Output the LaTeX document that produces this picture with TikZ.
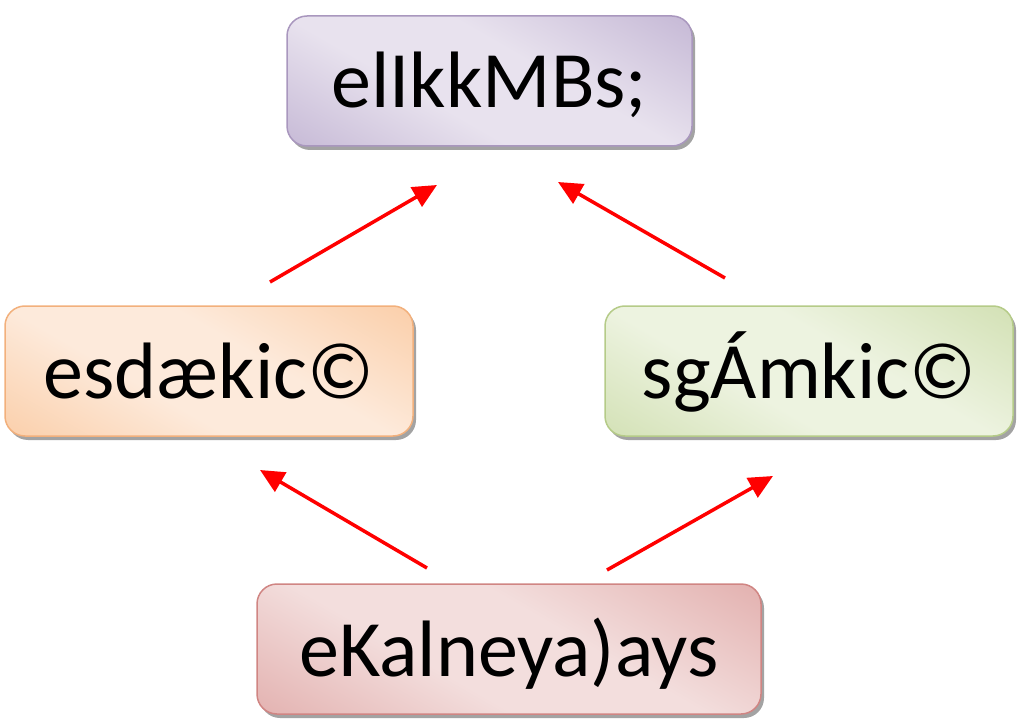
\documentclass[tikz,border=0pt]{standalone}
\usepackage{fontspec}
\setmainfont{Carlito}
\usetikzlibrary{arrows.meta,shadows}
\definecolor{pD}{HTML}{B1A0C7}\definecolor{pL}{HTML}{E8E2EE}\definecolor{pB}{HTML}{A997BE}
\definecolor{oD}{HTML}{F9BE8C}\definecolor{oL}{HTML}{FDEADB}\definecolor{oB}{HTML}{F2B07C}
\definecolor{gD}{HTML}{C3D69B}\definecolor{gL}{HTML}{EDF3E0}\definecolor{gB}{HTML}{B5CB88}
\definecolor{rD}{HTML}{D99694}\definecolor{rL}{HTML}{F3DEDD}\definecolor{rB}{HTML}{D08583}
\pgfdeclarehorizontalshading[sd,sl]{tri}{100bp}{color(0bp)=(sd); color(40bp)=(sl); color(58bp)=(sl); color(100bp)=(sd)}
\tikzset{
  box/.style args={#1/#2/#3}{rounded corners=20pt, minimum height=130pt, inner sep=0pt,
    text height=66pt, text depth=12pt,
    draw=#3, line width=1.5pt, font=\fontsize{80}{90}\selectfont,
    drop shadow={shadow xshift=3pt, shadow yshift=-4pt, fill=black!45, opacity=0.8},
    shading=tri, shading angle=60,
    /utils/exec={\colorlet{sd}{#1}\colorlet{sl}{#2}}},
  arr/.style={draw=red, line width=3.5pt, -{Triangle[length=24pt,width=22pt]}}
}
\begin{document}
\begin{tikzpicture}[x=1pt,y=-1pt]
\useasboundingbox (0,0) rectangle (1017,719);
\colorlet{sd}{white}\colorlet{sl}{white}
\node[box={pD}/{pL}/{pB}, minimum width=405pt] (top) at (489.5,81) {elIkkMBs;};
\node[box={oD}/{oL}/{oB}, minimum width=408pt] (left) at (209,371) {esdækic©};
\node[box={gD}/{gL}/{gB}, minimum width=408pt] (right) at (809,371) {sgÁmkic©};
\node[box={rD}/{rL}/{rB}, minimum width=504pt] (bot) at (509,649) {eKalneya)ays};
\coordinate (a1s) at (270,282); \coordinate (a1e) at (437,185);
\coordinate (a2s) at (725,278); \coordinate (a2e) at (558,182);
\coordinate (a3s) at (427,568); \coordinate (a3e) at (260,470);
\coordinate (a4s) at (607,570); \coordinate (a4e) at (773,476);
\draw[arr] (a1s) -- (a1e);
\draw[arr] (a2s) -- (a2e);
\draw[arr] (a3s) -- (a3e);
\draw[arr] (a4s) -- (a4e);
\end{tikzpicture}
\end{document}
